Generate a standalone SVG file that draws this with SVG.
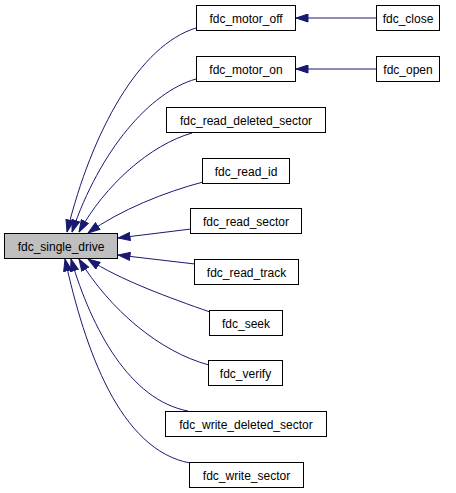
<svg xmlns="http://www.w3.org/2000/svg" width="456" height="493" viewBox="0 0 456 493">
<defs>
<style>
.n rect{fill:#ffffff;stroke:#000000;stroke-width:1}
.n.h rect{fill:#bfbfbf}
.n text{font-family:"Liberation Sans",Arial,sans-serif;font-size:12px;fill:#000000;text-anchor:middle}
.e path{fill:none;stroke:#191970;stroke-width:1;marker-end:url(#a)}
</style>
<marker id="a" viewBox="0 0 13 9" refX="12.5" refY="4.5" markerWidth="13" markerHeight="9" markerUnits="userSpaceOnUse" orient="auto">
<path d="M0.5,0.5 L12.5,4.5 L0.5,8.5 z" fill="#191970" stroke="#191970" stroke-width="1"/>
</marker>
</defs>
<rect width="456" height="493" fill="#ffffff"/>
<g id="edges" class="e">
<path d="M196,28 C140,45 92,130 67,232"/>
<path d="M196,79 C150,92 100,150 72,232"/>
<path d="M192,133 C150,145 105,185 79,232"/>
<path d="M203,182 C165,192 120,210 88,233"/>
<path d="M191,229 L118,238"/>
<path d="M195,264 L118,255"/>
<path d="M210,312 C170,298 120,280 88,259"/>
<path d="M209,365 C160,352 110,310 79,259"/>
<path d="M188,411 C130,400 92,330 71,259"/>
<path d="M190,463 C120,450 85,350 65,259"/>
<path d="M376,18 L296,18"/>
<path d="M376,69 L296,69"/>
</g>
<g id="fdc_single_drive" class="n h"><rect x="4.5" y="233.5" width="113" height="25"/><text x="61" y="250.5">fdc_single_drive</text></g>
<g id="fdc_motor_off" class="n"><rect x="196.5" y="5.5" width="99" height="25"/><text x="246" y="22.5">fdc_motor_off</text></g>
<g id="fdc_motor_on" class="n"><rect x="196.5" y="56.5" width="99" height="25"/><text x="246" y="73.5">fdc_motor_on</text></g>
<g id="fdc_close" class="n"><rect x="376.5" y="5.5" width="63" height="25"/><text x="408" y="22.5">fdc_close</text></g>
<g id="fdc_open" class="n"><rect x="376.5" y="56.5" width="63" height="25"/><text x="408" y="73.5">fdc_open</text></g>
<g id="fdc_read_deleted_sector" class="n"><rect x="166.5" y="107.5" width="159" height="25"/><text x="246" y="124.5">fdc_read_deleted_sector</text></g>
<g id="fdc_read_id" class="n"><rect x="202.5" y="158.5" width="87" height="25"/><text x="246" y="175.5">fdc_read_id</text></g>
<g id="fdc_read_sector" class="n"><rect x="190.5" y="208.5" width="111" height="25"/><text x="246" y="225.5">fdc_read_sector</text></g>
<g id="fdc_read_track" class="n"><rect x="194.5" y="259.5" width="104" height="25"/><text x="246.5" y="276.5">fdc_read_track</text></g>
<g id="fdc_seek" class="n"><rect x="209.5" y="310.5" width="73" height="25"/><text x="246" y="327.5">fdc_seek</text></g>
<g id="fdc_verify" class="n"><rect x="208.5" y="360.5" width="74" height="25"/><text x="245.5" y="377.5">fdc_verify</text></g>
<g id="fdc_write_deleted_sector" class="n"><rect x="165.5" y="411.5" width="161" height="25"/><text x="246" y="428.5">fdc_write_deleted_sector</text></g>
<g id="fdc_write_sector" class="n"><rect x="189.5" y="462.5" width="114" height="25"/><text x="246.5" y="479.5">fdc_write_sector</text></g>
</svg>
